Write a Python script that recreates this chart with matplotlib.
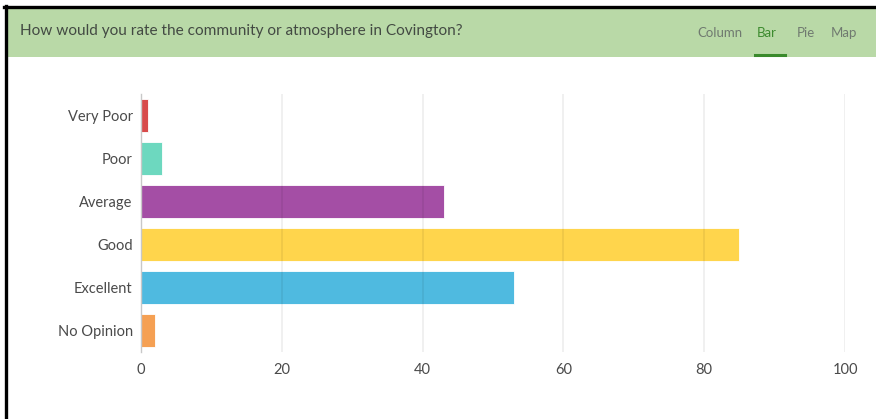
import matplotlib
matplotlib.use("Agg")
import matplotlib.pyplot as plt
from matplotlib.patches import Rectangle
from matplotlib.lines import Line2D

# Survey responses
categories = ["Very Poor", "Poor", "Average", "Good", "Excellent", "No Opinion"]
counts = [1, 3, 43, 85, 53, 2]
bar_colors = ["#d84b4b", "#6dd8bf", "#a44ea5", "#ffd54c", "#4fbae0", "#f5a053"]
x_ticks = [0, 20, 40, 60, 80, 100]

title = "How would you rate the community or atmosphere in Covington?"
tabs = ["Column", "Bar", "Pie", "Map"]

W, H = 876, 419
fig = plt.figure(figsize=(W / 100, H / 100), dpi=100)
fig.patch.set_facecolor("white")

FONT = "Lato"

def fx(px):
    return px / W

def fy(py):
    return 1 - py / H

# Header band and frame
fig.patches.append(Rectangle((fx(7), fy(57)), 1 - fx(7), (57 - 9) / H,
                             transform=fig.transFigure, facecolor="#b9d9a7",
                             edgecolor="none", zorder=0))
fig.lines.append(Line2D([fx(4), 1], [fy(7), fy(7)], transform=fig.transFigure,
                        color="black", lw=2.4))
fig.lines.append(Line2D([fx(5.5), fx(5.5)], [0, fy(6)], transform=fig.transFigure,
                        color="black", lw=2.4))

fig.text(fx(20), fy(31), title, fontsize=11.1, color="#434a43", family=FONT,
         va="center", ha="left")

tab_x = [697, 757, 797, 831]
for label, x in zip(tabs, tab_x):
    col = "#3d8b2f" if label == "Bar" else "#707a70"
    fig.text(fx(x), fy(33), label, fontsize=9.5, color=col, family=FONT,
             va="center", ha="left")
fig.lines.append(Line2D([fx(755), fx(785)], [fy(55), fy(55)], transform=fig.transFigure,
                        color="#3a8a2c", lw=2.2))

# Bar chart
ax = fig.add_axes([fx(141), fy(352), fx(845) - fx(141), (352 - 94) / H])
ypos = list(range(len(categories)))
ax.barh(ypos, counts, height=0.75, color=bar_colors, edgecolor="white",
        linewidth=0.6, zorder=2)
ax.set_ylim(len(categories) - 0.5, -0.5)
ax.set_xlim(0, 100)
ax.set_xticks(x_ticks)
ax.set_xticklabels([str(t) for t in x_ticks])
ax.set_yticks(ypos)
ax.set_yticklabels(categories)

for t in x_ticks[1:]:
    ax.axvline(t, color="black", alpha=0.075, lw=1.1, zorder=3)

for s in ["top", "right", "bottom"]:
    ax.spines[s].set_visible(False)
ax.spines["left"].set_color("#c8c8c8")
ax.spines["left"].set_linewidth(1.0)
ax.spines["left"].set_zorder(4)

ax.tick_params(axis="both", length=0, labelsize=10.5, labelcolor="#4a4a4a")
ax.tick_params(axis="y", pad=6)
ax.tick_params(axis="x", pad=8)
for lbl in ax.get_xticklabels() + ax.get_yticklabels():
    lbl.set_family(FONT)

fig.savefig("out.png", dpi=100, facecolor="white")
